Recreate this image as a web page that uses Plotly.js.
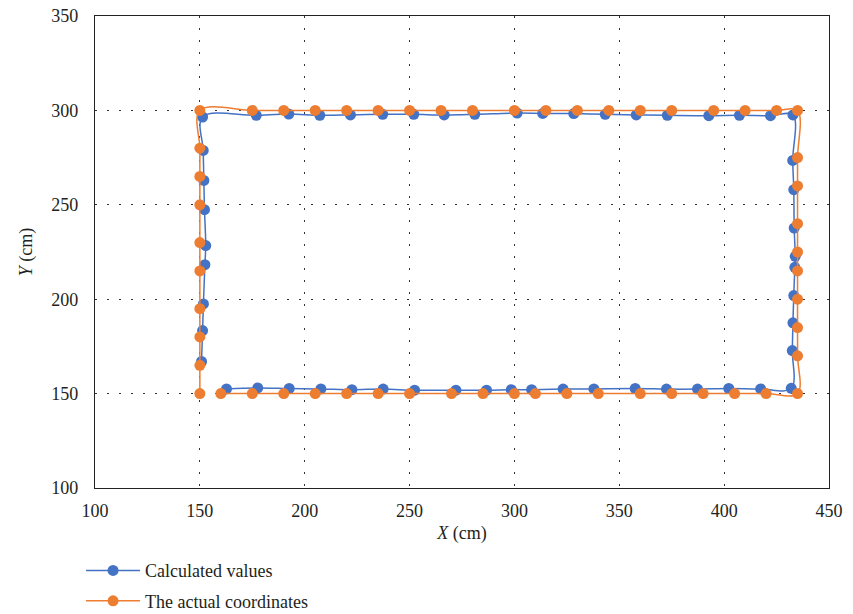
<!DOCTYPE html>
<html>
<head>
<meta charset="utf-8">
<script src="https://cdn.plot.ly/plotly-3.0.1.min.js"></script>
<style>html,body{margin:0;padding:0;background:#fff;}#chart{width:853px;height:614px;}</style>
</head>
<body>
<div id="chart"></div>
<script>
// Calculated values (blue) — path: left side up, top left->right, right side down, bottom right->left
const calcLeftX = [150.8,151.3,151.7,152.4,152.8,152.2,151.9,151.6,151.3];
const calcLeftY = [167,183.4,197.5,218.3,228.4,247.4,262.9,278.8,296.5];
const calcTopX = [176.9,192.4,207.2,221.8,237.2,252,266.5,281.1,301.3,313.5,328.3,343.3,358.1,372.9,392.7,407.3,422.1,432.8];
const calcTopY = [297.4,298.1,297.4,297.6,297.9,297.9,297.6,297.9,298.6,298.4,298.3,297.9,297.6,297.4,297.2,297.4,297.2,297.6];
const calcRightX = [432.7,433.2,433.4,433.9,433.7,433.2,432.8,432.5,432];
const calcRightY = [273.5,258,237.7,222.7,216.9,201.9,187.5,172.8,152.8];
const calcBottomX = [417.4,402.2,387.3,372.5,357.6,337.9,323.2,308.2,298.5,286.7,272.1,252.4,237.4,222.5,207.7,192.6,177.6,162.7];
const calcBottomY = [152.5,152.7,152.4,152.4,152.7,152.5,152.4,152.1,152.1,151.8,151.8,151.8,152.4,152.1,152.5,152.7,153,152.5];

// The actual coordinates (orange)
const actLeftX = [150,150,150,150,150,150,150,150,150,150];
const actLeftY = [150,165,180,195,215,230,250,265,280,300];
const actTopX = [175,190,205,220,235,250,265,280,300,315,330,345,360,375,395,410,425,435];
const actTopY = [300,300,300,300,300,300,300,300,300,300,300,300,300,300,300,300,300,300];
const actRightX = [435,435,435,435,435,435,435,435,435];
const actRightY = [275,260,240,225,215,200,185,170,150];
const actBottomX = [420,405,390,375,360,340,325,310,300,285,270,250,235,220,205,190,175,160];
const actBottomY = [150,150,150,150,150,150,150,150,150,150,150,150,150,150,150,150,150,150];

const xTicks = [100,150,200,250,300,350,400,450];
const yTicks = [100,150,200,250,300,350];

const font = 'Liberation Serif, DejaVu Serif, serif';

const calcX = [].concat(calcLeftX, calcTopX, calcRightX, calcBottomX);
const calcY = [].concat(calcLeftY, calcTopY, calcRightY, calcBottomY);
const actX = [].concat(actLeftX, actTopX, actRightX, actBottomX);
const actY = [].concat(actLeftY, actTopY, actRightY, actBottomY);

const traces = [
  {x: calcX, y: calcY, name: 'Calculated values', mode: 'lines+markers', type: 'scatter',
   line: {color: '#4472C4', width: 1.5, shape: 'spline', smoothing: 1},
   marker: {color: '#4472C4', size: 11}, legendgroup: 'a'},
  {x: actX, y: actY, name: 'The actual coordinates', mode: 'lines+markers', type: 'scatter',
   line: {color: '#ED7D31', width: 1.5, shape: 'spline', smoothing: 1},
   marker: {color: '#ED7D31', size: 11}, legendgroup: 'b'}
];

const gridStyle = {showgrid: true, gridcolor: '#333', gridwidth: 1, griddash: '2px,10px'};

const layout = {
  width: 853, height: 614,
  margin: {l: 95, r: 24, t: 16, b: 126, autoexpand: false},
  paper_bgcolor: '#fff', plot_bgcolor: '#fff',
  font: {family: font, size: 18, color: '#231f20'},
  xaxis: Object.assign({
    range: [100, 450], tickvals: xTicks, ticktext: xTicks.map(String),
    showline: true, mirror: true, linecolor: '#222', linewidth: 1.2,
    zeroline: false, ticks: '', ticklabelstandoff: 6,
    title: {text: '<i>X</i> (cm)', font: {family: font, size: 18}, standoff: 6}
  }, gridStyle),
  yaxis: Object.assign({
    range: [100, 350], tickvals: yTicks, ticktext: yTicks.map(String),
    showline: true, mirror: true, linecolor: '#222', linewidth: 1.2,
    zeroline: false, ticks: '', ticklabelstandoff: 12,
    title: {text: '<i>Y</i> (cm)', font: {family: font, size: 18}, standoff: 14}
  }, gridStyle),
  showlegend: true,
  legend: {x: -0.019, xanchor: 'left', y: -0.136, yanchor: 'top', orientation: 'v',
           itemwidth: 54,
           font: {family: font, size: 18}, tracegroupgap: 4, bgcolor: 'rgba(0,0,0,0)'},
};

Plotly.newPlot('chart', traces, layout, {displayModeBar: false, staticPlot: true});
</script>
</body>
</html>
